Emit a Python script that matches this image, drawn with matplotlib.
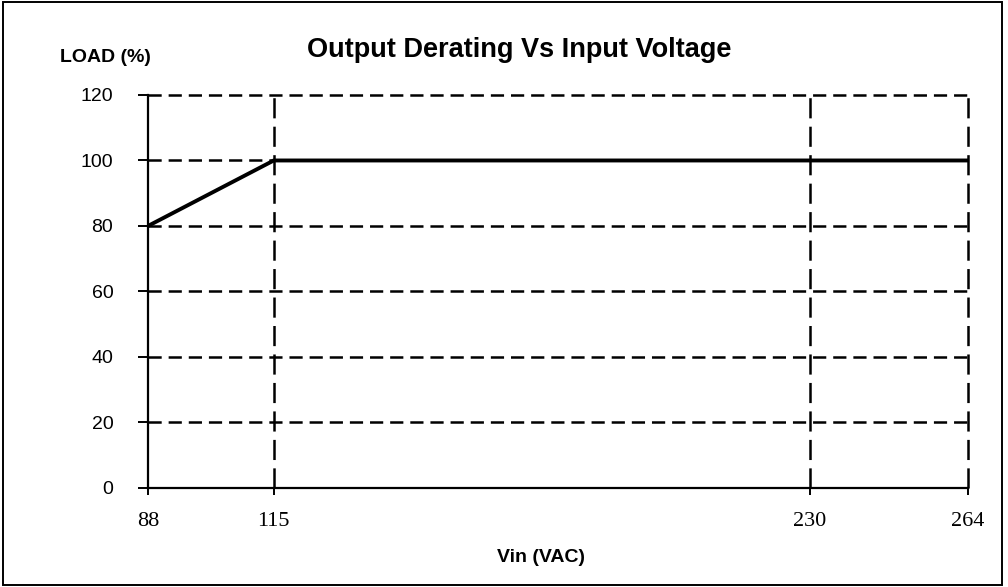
import matplotlib
matplotlib.use("Agg")
import matplotlib.pyplot as plt
from matplotlib.patches import Rectangle

# derating curve
vin = [88, 115, 264]
load = [80, 100, 100]

x_ticks = [88, 115, 230, 264]
y_ticks = [0, 20, 40, 60, 80, 100, 120]
vgrid = [115, 230, 264]
hgrid = [20, 40, 60, 80, 100, 120]

plt.rcParams['lines.scale_dashes'] = False

fig = plt.figure(figsize=(10.08, 5.87), dpi=100)
ax = fig.add_axes([0.1468, 0.1687, 0.9603 - 0.1468, 0.8382 - 0.1687])

for v in vgrid:
    ax.plot([v, v], [0, 120], color='black', lw=1.8, linestyle=(0, (14.5, 6)), zorder=1)
for h in hgrid:
    ax.plot([88, 264], [h, h], color='black', lw=1.8, linestyle=(0, (9.5, 5)), zorder=1)

ax.plot(vin, load, color='black', lw=2.8, solid_capstyle='butt', zorder=3)

ax.set_xlim(88, 264)
ax.set_ylim(0, 120)
ax.set_xticks(x_ticks)
ax.set_yticks(y_ticks)
ax.set_xticklabels([str(t) for t in x_ticks], family='Liberation Serif', fontsize=16)
ax.set_yticklabels([str(t) for t in y_ticks], family='Liberation Sans', fontsize=14)
ax.tick_params(axis='y', direction='out', length=7, width=1.4, pad=18)
ax.tick_params(axis='x', direction='out', length=5, width=1.4, pad=12)

ax.spines['top'].set_visible(False)
ax.spines['right'].set_visible(False)
ax.spines['left'].set_linewidth(1.6)
ax.spines['bottom'].set_linewidth(1.6)
for ln in ax.lines:
    ln.set_clip_on(False)

H = 587.0
fig.text(519 / 1008, 1 - 57 / H, 'Output Derating Vs Input Voltage', family='Liberation Sans',
         fontsize=19.5, fontweight='bold', ha='center', va='baseline')
fig.text(105 / 1008, 1 - 62 / H, 'LOAD (%)', family='Liberation Sans', fontsize=14,
         fontweight='bold', ha='center', va='baseline')
fig.text(541 / 1008, 1 - 562 / H, 'Vin (VAC)', family='Liberation Sans', fontsize=14,
         fontweight='bold', ha='center', va='baseline')

fig.patches.append(Rectangle((3 / 1008, 2 / 587), 999 / 1008, 583 / 587,
                             transform=fig.transFigure, fill=False,
                             edgecolor='black', linewidth=1.4))

fig.savefig('out.png', dpi=100)
